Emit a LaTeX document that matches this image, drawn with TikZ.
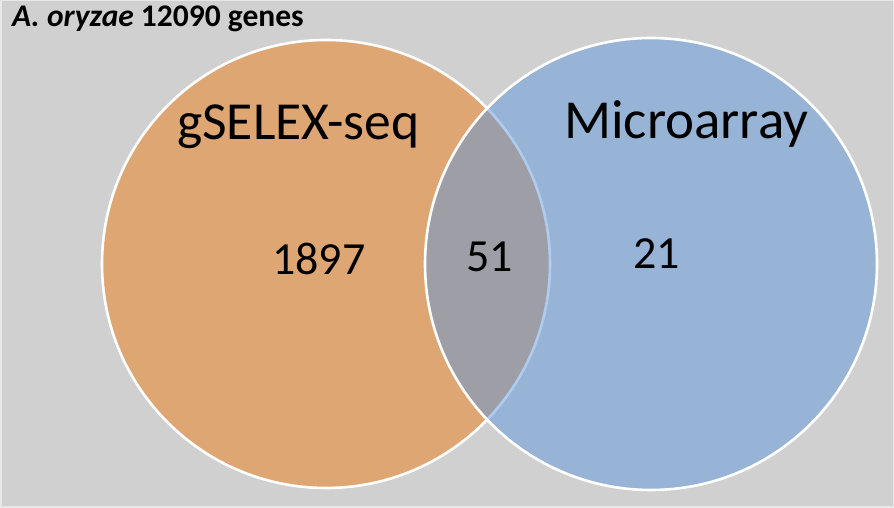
\documentclass[tikz,border=0pt]{standalone}
\usepackage{fontspec}
\setmainfont{Carlito}
\definecolor{bggray}{RGB}{208,208,208}
\definecolor{bgedge}{RGB}{232,232,232}
\definecolor{setorange}{RGB}{222,166,115}
\definecolor{setblue}{RGB}{96,152,220}
\begin{document}
\begin{tikzpicture}[x=1pt,y=1pt,
  setcircle/.style={circle, inner sep=0pt, draw=white, line width=2.6pt},
  lbl/.style={anchor=base west, inner sep=0pt, text=black}]
\useasboundingbox (0,0) rectangle (894,508);
\fill[bggray] (0,0) rectangle (894,508);
\draw[bgedge, line width=1.5pt] (0.75,0.75) rectangle (893.25,507.25);
\node[setcircle, fill=setorange, minimum size=448pt] (gsel) at (326,244) {};
\node[setcircle, fill=setblue, fill opacity=0.5, minimum size=452pt] (micro) at (651,244) {};
\node[lbl, font=\fontsize{31.5}{36}\selectfont\bfseries] (title) at (12,481) {\textit{A. oryzae} 12090 genes};
\node[lbl, font=\fontsize{53.5}{62}\selectfont] (gname) at (177,368) {gSELEX-seq};
\node[lbl, font=\fontsize{55}{64}\selectfont] (mname) at (564,369) {Microarray};
\node[lbl, font=\fontsize{46}{54}\selectfont] (n1) at (272,233) {1897};
\node[lbl, font=\fontsize{46}{54}\selectfont] (n2) at (466,236) {51};
\node[lbl, font=\fontsize{46}{54}\selectfont] (n3) at (633,239) {21};
\end{tikzpicture}
\end{document}
